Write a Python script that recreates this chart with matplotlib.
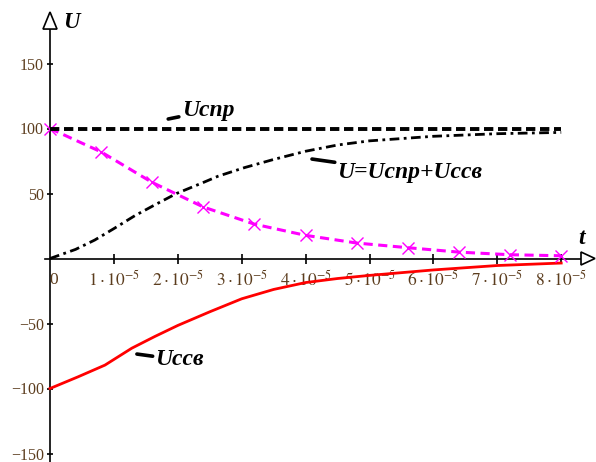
import matplotlib
matplotlib.use("Agg")
import matplotlib.pyplot as plt
from matplotlib.patches import Polygon

plt.rcParams["font.family"] = ["Liberation Serif", "DejaVu Serif"]
plt.rcParams["mathtext.fontset"] = "stix"

# values (t in units of 1e-5 s)
t_spr = [0, 8]
u_spr = [100, 100]

t_sum = [0, 0.4, 0.7, 1.0, 1.33, 1.65, 1.98, 2.4, 2.63, 3.05, 3.5, 4.0, 4.5, 5.0, 6.0, 7.0, 8.0]
u_sum = [0, 7, 14.2, 23, 33, 41.5, 50, 58.5, 63.3, 70, 76.2, 82.5, 87.3, 90.5, 94, 96, 97]

t_ssv = [0, 0.44, 0.86, 1.28, 1.64, 2.0, 2.5, 3.0, 3.5, 4.0, 4.5, 5.0, 6.0, 7.0, 8.0]
u_ssv = [-100, -91, -82, -69, -60, -51.5, -41, -31, -23.8, -18.5, -15.4, -13, -8.8, -5.4, -3.5]

t_mag = [0, 0.8, 1.6, 2.4, 3.2, 4.0, 4.8, 5.6, 6.4, 7.2, 8.0]
u_mag = [100, 82, 58.5, 39.6, 26.4, 17.8, 11.9, 8.3, 4.9, 2.9, 2.1]

x_ticks = [1, 2, 3, 4, 5, 6, 7, 8]
y_ticks = [-150, -100, -50, 50, 100, 150]

SC = 1e-5
# pixel sizes in data units
PX = SC / 63.9
PY = 1 / 1.3

fig = plt.figure(figsize=(5.96, 4.62), dpi=100)
ax = fig.add_axes([0, 0, 1, 1])
ax.set_xlim(-50 * PX, 546 * PX)
ax.set_ylim(-(462 - 258.5) * PY, 258.5 * PY)

ax.plot([t * SC for t in t_spr], u_spr, color="black", lw=2.8,
        dashes=(2.4, 1.2), zorder=5)
ax.plot([t * SC for t in t_sum], u_sum, color="black", lw=2.0,
        dashes=(3.5, 1.6, 1, 1.6), zorder=4)
ax.plot([t * SC for t in t_ssv], u_ssv, color="#ff0000", lw=2.0, zorder=4)
ax.plot([t * SC for t in t_mag], u_mag, color="#ff00ff", lw=2.2,
        dashes=(3, 1.8), marker="x", ms=9, mew=1.0, zorder=4)

# axes through the origin, Mathcad style
for s in ["top", "right"]:
    ax.spines[s].set_visible(False)
ax.spines["left"].set_position(("data", 0))
ax.spines["bottom"].set_position(("data", 0))
ax.spines["left"].set_bounds(-170, 176.5)
ax.spines["bottom"].set_bounds(-5 * PX, 531 * PX)
for s in ["left", "bottom"]:
    ax.spines[s].set_linewidth(1.2)

lab_color = "#5c3d1e"
ax.set_xticks([v * SC for v in x_ticks])
ax.set_xticklabels([rf"${v}\cdot10^{{-5}}$" for v in x_ticks])
ax.set_yticks(y_ticks)
ax.tick_params(axis="x", direction="inout", length=7, width=1.2, pad=4.5,
               labelsize=12.5, labelcolor=lab_color)
ax.tick_params(axis="y", direction="inout", length=5, width=1.2, pad=2,
               labelsize=11.5, labelcolor=lab_color)
ax.text(4 * PX, -14 * PY, "0", fontsize=12.5, color=lab_color,
        ha="center", va="top")

# hollow arrow heads
ax.add_patch(Polygon([(-7 * PX, 176.5), (7 * PX, 176.5), (0, 246.5 * PY)],
                     closed=True, fc="white", ec="black", lw=1.2, zorder=6))
ax.add_patch(Polygon([(531 * PX, 6.5 * PY), (531 * PX, -6.5 * PY), (545 * PX, 0)],
                     closed=True, fc="white", ec="black", lw=1.2, zorder=6))

ax.text(21 * PX, 235.5 * PY, "U", fontsize=16.5, fontweight="bold",
        fontstyle="italic", ha="center", va="center")
ax.text(532 * PX, 20 * PY, "t", fontsize=17, fontweight="bold",
        fontstyle="italic", ha="center", va="center")

lead = dict(arrowstyle="-", lw=2.6, color="black", shrinkA=0, shrinkB=0)
lab_kw = dict(fontsize=17, fontweight="bold", fontstyle="italic",
              ha="left", va="center", arrowprops=lead)
ax.annotate("Uспр", xy=(1.85 * SC, 107.3), xytext=(2.06 * SC, 113.5), **lab_kw)
ax.annotate("U=Uспр+Uссв", xy=(4.1 * SC, 76.5), xytext=(4.5 * SC, 65.8), **lab_kw)
ax.annotate("Uссв", xy=(1.36 * SC, -73.5), xytext=(1.65 * SC, -78), **lab_kw)

fig.savefig("out.png", dpi=100)
